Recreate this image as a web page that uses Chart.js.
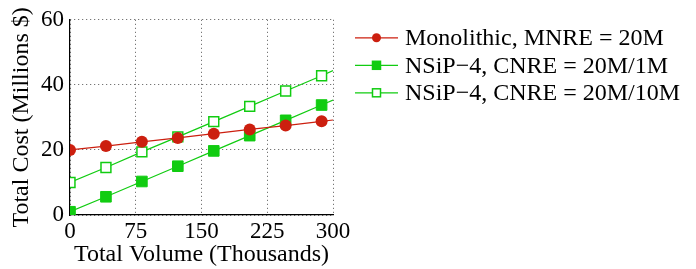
<!DOCTYPE html>
<html>
<head>
<meta charset="utf-8">
<script src="https://cdn.jsdelivr.net/npm/chart.js@4.4.0/dist/chart.umd.min.js"></script>
<style>
  html, body { margin: 0; padding: 0; background: #fff; }
  #wrap { width: 696px; height: 269px; position: relative; }
</style>
</head>
<body>
<div id="wrap"><canvas id="chart"></canvas></div>
<script>
// volume in thousands, cost in millions $
const volume = [0, 41, 82, 123, 164, 205, 246, 287, 300];
const monolithic = [20, 21.2, 22.5, 23.7, 25.0, 26.3, 27.5, 28.8, 29.2];
const nsip1M = [1.0, 5.6, 10.3, 15.0, 19.7, 24.4, 29.1, 33.8, 35.3];
const nsip10M = [10.0, 14.6, 19.4, 24.0, 28.7, 33.4, 38.1, 42.8, 44.4];
const seriesNames = ['Monolithic, MNRE = 20M', 'NSiP\u22124, CNRE = 20M/1M', 'NSiP\u22124, CNRE = 20M/10M'];
const xTicks = [0, 75, 150, 225, 300];
const yTicks = [0, 20, 40, 60];

const red = '#cc1f0f';
const green = '#11cc11';
const serif = '"Liberation Serif", "DejaVu Serif", serif';

const pts = (ys) => volume.map((v, i) => ({ x: v, y: ys[i] }));
// no marker on the last point, the line just runs on to the edge
const radius = (r) => volume.map((v, i) => i === volume.length - 1 ? 0 : r);

const legendPlugin = {
  id: 'sideLegend',
  afterDraw(chart) {
    const ctx = chart.ctx;
    const area = chart.chartArea;
    const x0 = area.right + 22, x1 = area.right + 65;
    ctx.save();
    ctx.font = '24px ' + serif;
    ctx.textBaseline = 'middle';
    chart.data.datasets.forEach((ds, i) => {
      const y = area.top + 18 + i * 27.5;
      ctx.strokeStyle = ds.borderColor;
      ctx.lineWidth = 1.2;
      ctx.beginPath();
      ctx.moveTo(x0, y);
      ctx.lineTo(x1, y);
      ctx.stroke();
      const mx = (x0 + x1) / 2;
      ctx.fillStyle = ds.pointBackgroundColor;
      ctx.strokeStyle = ds.borderColor;
      if (ds.pointStyle === 'circle') {
        ctx.beginPath();
        ctx.arc(mx, y, 4.5, 0, Math.PI * 2);
        ctx.fill();
      } else {
        ctx.fillRect(mx - 4, y - 4, 8, 8);
        ctx.lineWidth = 1.5;
        ctx.strokeRect(mx - 4, y - 4, 8, 8);
      }
      ctx.fillStyle = '#000';
      ctx.fillText(ds.label, x1 + 7, y + 1);
    });
    ctx.restore();
  }
};

new Chart(document.getElementById('chart'), {
  type: 'line',
  data: {
    datasets: [
      {
        label: seriesNames[0], data: pts(monolithic),
        borderColor: red, borderWidth: 1.2,
        pointStyle: 'circle', pointRadius: radius(6),
        pointBackgroundColor: red, pointBorderColor: red, pointBorderWidth: 0
      },
      {
        label: seriesNames[1], data: pts(nsip1M),
        borderColor: green, borderWidth: 1.2,
        pointStyle: 'rect', pointRadius: radius(7.5),
        pointBackgroundColor: green, pointBorderColor: green, pointBorderWidth: 1
      },
      {
        label: seriesNames[2], data: pts(nsip10M),
        borderColor: green, borderWidth: 1.2,
        pointStyle: 'rect', pointRadius: radius(7),
        pointBackgroundColor: '#fff', pointBorderColor: green, pointBorderWidth: 1.5
      }
    ]
  },
  options: {
    responsive: true,
    maintainAspectRatio: false,
    animation: false,
    layout: { padding: { left: 0, top: 17, right: 363, bottom: 0 } },
    plugins: { legend: { display: false }, tooltip: { enabled: false } },
    scales: {
      x: {
        type: 'linear', min: 0, max: 300,
        afterBuildTicks: (s) => { s.ticks = xTicks.map(v => ({ value: v })); },
        afterFit: (s) => { s.height = 54; },
        ticks: { font: { family: serif, size: 23 }, color: '#000', padding: 3, maxRotation: 0 },
        grid: { color: '#555', drawTicks: false },
        border: { color: '#000', width: 1.2, dash: [1, 3] },
        title: { display: true, text: 'Total Volume (Thousands)', font: { family: serif, size: 24 }, color: '#000', padding: { top: -6, bottom: 0 } }
      },
      y: {
        min: 0, max: 60,
        afterBuildTicks: (s) => { s.ticks = yTicks.map(v => ({ value: v })); },
        afterFit: (s) => { s.width = 70; },
        ticks: { font: { family: serif, size: 23 }, color: '#000', padding: 6 },
        grid: { color: '#555', drawTicks: false },
        border: { color: '#000', width: 1.2, dash: [1, 3] },
        title: { display: true, text: 'Total Cost (Millions $)', font: { family: serif, size: 24 }, color: '#000', padding: { top: 7, bottom: 0 } }
      }
    }
  },
  plugins: [legendPlugin]
});
</script>
</body>
</html>
